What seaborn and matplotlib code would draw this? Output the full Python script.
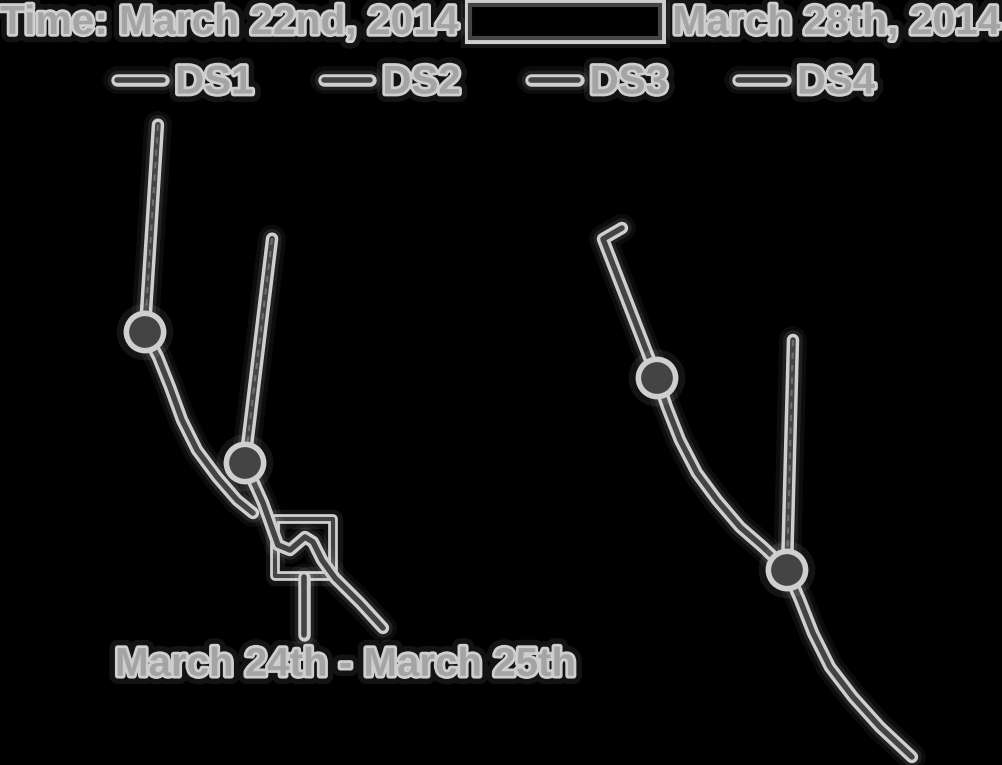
import matplotlib
matplotlib.use("Agg")
import matplotlib.pyplot as plt
import matplotlib.patheffects as pe
from matplotlib.patches import Rectangle
from matplotlib.lines import Line2D
import seaborn as sns
import pandas as pd

# -----------------------------
# Data (x = hours since March 22nd 00:00, y = value)
# -----------------------------

series_names = ["DS1", "DS2", "DS3", "DS4"]

ds1_dash_x = [22.7, 20.8]
ds1_dash_y = [83.7, 56.6]
ds1_x = [20.84, 22.71, 24.43, 26.16, 28.31, 31.19, 34.06, 36.36]
ds1_y = [56.60, 53.33, 49.41, 45.10, 41.18, 37.65, 34.64, 32.94]

ds2_dash_x = [39.1, 35.2]
ds2_dash_y = [68.8, 39.5]
ds2_x = [35.21, 37.80, 39.95, 41.68, 43.83, 44.98, 46.27, 48.14, 51.74, 55.04]
ds2_y = [39.48, 34.25, 28.76, 28.10, 29.80, 29.15, 26.80, 24.44, 21.18, 17.91]

ds3_x = [89.39, 86.66, 94.42, 95.85, 97.72, 100.17, 103.04, 106.35, 109.65, 113.10]
ds3_y = [70.20, 68.76, 50.59, 46.80, 42.48, 38.17, 34.64, 31.11, 28.50, 25.49]

ds4_dash_x = [113.96, 113.10]
ds4_dash_y = [55.56, 25.49]
ds4_x = [113.10, 114.97, 116.84, 119.28, 122.58, 126.46, 131.06]
ds4_y = [25.49, 21.57, 17.25, 12.81, 8.89, 4.97, 1.05]

marker_x = [20.84, 35.21, 94.42, 113.10]
marker_y = [56.60, 39.48, 50.59, 25.49]

note_x = [43.7]
note_y = [28.4]
note_stem_y = [24.6, 17.0]
note_text = "March 24th - March 25th"

range_start = "Time: March 22nd, 2014"
range_end = "March 28th, 2014"

# -----------------------------
# Styling
# -----------------------------

sns.set_style("dark")
plt.rcParams["font.family"] = ["Liberation Sans", "DejaVu Sans"]
plt.rcParams["font.weight"] = "bold"

EDGE = "#cfcfcf"
CORE = "#444444"
FILL = "#a4a4a4"

line_fx = [
    pe.Stroke(linewidth=20, foreground="white", alpha=0.05),
    pe.Stroke(linewidth=14, foreground="white", alpha=0.09),
    pe.Stroke(linewidth=9, foreground=EDGE),
    pe.Stroke(linewidth=4, foreground=CORE),
]
text_fx = [
    pe.Stroke(linewidth=12, foreground="white", alpha=0.08),
    pe.Stroke(linewidth=4, foreground=EDGE),
    pe.Normal(),
]

fig = plt.figure(figsize=(10.02, 7.65), dpi=100, facecolor="black")
ax = fig.add_axes([0, 0, 1, 1])
ax.set_facecolor("black")


def draw(xs, ys, dashed=False):
    df = pd.DataFrame({"x": xs, "y": ys})
    n0 = len(ax.lines)
    sns.lineplot(data=df, x="x", y="y", sort=False, ax=ax, color=CORE,
                 linewidth=4, estimator=None)
    for ln in ax.lines[n0:]:
        ln.set_solid_capstyle("round")
        ln.set_solid_joinstyle("round")
        ln.set_path_effects(line_fx)
    if dashed:
        n0 = len(ax.lines)
        sns.lineplot(data=df, x="x", y="y", sort=False, ax=ax,
                     color="#6e6e6e", linewidth=1.5, estimator=None)
        for ln in ax.lines[n0:]:
            ln.set_linestyle((0, (3, 3)))


draw(ds1_dash_x, ds1_dash_y, dashed=True)
draw(ds1_x, ds1_y)
draw(ds2_dash_x, ds2_dash_y, dashed=True)
draw(ds2_x, ds2_y)
draw(ds3_x, ds3_y)
draw(ds4_dash_x, ds4_dash_y, dashed=True)
draw(ds4_x, ds4_y)

# annotation stem + square
draw(note_x * 2, note_stem_y)
sns.scatterplot(x=note_x, y=note_y, marker="s", s=1700, ax=ax,
                facecolor="none", edgecolor=CORE, linewidth=2)
ax.collections[-1].set_path_effects([
    pe.Stroke(linewidth=14, foreground="white", alpha=0.08),
    pe.Stroke(linewidth=7, foreground=EDGE),
    pe.Stroke(linewidth=3, foreground=CORE),
])
ax.text(note_x[0] + 5.9, note_stem_y[1] - 3.9, note_text, ha="center",
        va="center", fontsize=29, color=FILL, path_effects=text_fx)

# circle markers
sns.scatterplot(x=marker_x, y=marker_y, marker="o", s=720, ax=ax,
                color=CORE, edgecolor=EDGE, linewidth=4, zorder=5)
ax.collections[-1].set_path_effects([
    pe.Stroke(linewidth=14, foreground="white", alpha=0.08),
    pe.Normal(),
])

ax.set_xlim(0, 144)
ax.set_ylim(0, 100)
ax.set_axis_off()

# -----------------------------
# Range selector header
# -----------------------------

fig.text(0.0, 0.970, range_start, ha="left", va="center", fontsize=29.3,
         color=FILL, path_effects=text_fx)
fig.text(0.999, 0.970, range_end, ha="right", va="center", fontsize=29.3,
         color=FILL, path_effects=text_fx)
rect = Rectangle((0.469, 0.950), 0.19, 0.043, transform=fig.transFigure,
                 facecolor="black", edgecolor=CORE, linewidth=3)
rect.set_path_effects([
    pe.Stroke(linewidth=14, foreground="white", alpha=0.08),
    pe.Stroke(linewidth=8, foreground=EDGE),
    pe.Normal(),
])
fig.patches.append(rect)

# -----------------------------
# Legend
# -----------------------------

handles = [Line2D([0], [0], color=CORE, linewidth=4, path_effects=line_fx,
                  solid_capstyle="round")
           for _ in series_names]
leg = fig.legend(handles, series_names, loc="center", ncol=4,
                 bbox_to_anchor=(0.495, 0.892), frameon=False,
                 handlelength=1.15, handletextpad=0.3, columnspacing=1.75,
                 fontsize=29)
for t in leg.get_texts():
    t.set_color(FILL)
    t.set_path_effects(text_fx)

plt.savefig("out.png", dpi=100, facecolor="black")
